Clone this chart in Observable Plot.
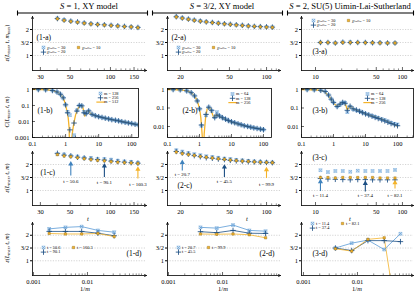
<!DOCTYPE html>
<html><head><meta charset="utf-8">
<script src="https://cdn.jsdelivr.net/npm/d3@7"></script>
<script src="https://cdn.jsdelivr.net/npm/@observablehq/plot@0.6"></script>
<style>
html,body{margin:0;padding:0;background:#fff}
#c{position:relative;width:415px;height:294px;overflow:hidden;background:#fff}
#c svg{position:absolute;overflow:visible;max-width:none}
</style></head><body><div id="c"></div>
<script>
// ================= DATA =================
const colTitles = [" = 1, XY model", " = 3/2, XY model", " = 2, SU(5) Uimin-Lai-Sutherland"];
const panelLabels = [["(1-a)","(1-b)","(1-c)","(1-d)"],["(2-a)","(2-b)","(2-c)","(2-d)"],["(3-a)","(3-b)","(3-c)","(3-d)"]];
const chiLabels = ["χₜᵣₒₜₜₑᵣ = 30", "χₜᵣₒₜₜₑᵣ = 10", "χₜᵣₒₜₜₑᵣ = 20"];
const mLabels1 = ["m = 128", "m = 256", "m = 512"];
const mLabels23 = ["m = 64", "m = 128", "m = 256"];

// x values (rows a, c)
const tS1 = [40.2, 45.1, 50.6, 56.8, 63.7, 71.5, 80.2, 90.1, 101.1, 113.4, 127.2, 142.7, 160.3];
const tS32 = [18.5, 20.7, 23.2, 25.9, 29.0, 32.4, 36.3, 40.6, 45.5, 50.8, 56.8, 63.6, 71.1, 79.6, 89.0, 99.9, 111.5];
const tS2 = [11.4, 13.9, 16.9, 20.6, 25.1, 30.6, 37.4, 45.3, 55.2, 67.3, 82.1];

// row a : eps(Lmax, t, m_max) for chi_trotter = 30, 20, 10
const a1_chi30 = [2.43, 2.37, 2.32, 2.28, 2.25, 2.22, 2.20, 2.18, 2.16, 2.14, 2.12, 2.10, 2.08];
const a1_chi20 = [2.42, 2.36, 2.32, 2.29, 2.25, 2.22, 2.19, 2.18, 2.16, 2.14, 2.12, 2.10, 2.08];
const a1_chi10 = [2.41, 2.35, 2.31, 2.28, 2.24, 2.21, 2.19, 2.17, 2.15, 2.13, 2.11, 2.10, 2.07];
const a2_chi30 = [2.50, 2.45, 2.40, 2.36, 2.33, 2.30, 2.27, 2.25, 2.22, 2.20, 2.18, 2.16, 2.14, 2.12, 2.11, 2.10, 2.09];
const a2_chi20 = [2.49, 2.44, 2.40, 2.36, 2.32, 2.29, 2.27, 2.24, 2.22, 2.20, 2.18, 2.16, 2.14, 2.12, 2.11, 2.10, 2.09];
const a2_chi10 = [2.48, 2.43, 2.39, 2.35, 2.32, 2.29, 2.26, 2.24, 2.21, 2.19, 2.17, 2.15, 2.13, 2.12, 2.10, 2.09, 2.08];
const a3_chi30 = [1.50, 1.50, 1.48, 1.51, 1.51, 1.50, 1.50, 1.49, 1.49, 1.48, 1.48];
const a3_chi20 = [1.50, 1.50, 1.48, 1.51, 1.50, 1.50, 1.50, 1.49, 1.49, 1.48, 1.48];
const a3_chi10 = [1.50, 1.50, 1.48, 1.50, 1.50, 1.50, 1.49, 1.49, 1.48, 1.48, 1.48];

// row b : correlation C(Lmax, t, m)
const b1_r = [0.1, 0.15, 0.2, 0.3, 0.4, 0.5, 0.6, 0.7, 0.8, 0.9, 1.0, 1.1, 1.2, 1.28, 1.36, 1.5, 1.65, 1.8, 2.0, 2.25, 2.6, 2.9, 3.2, 3.5, 3.8, 4.1, 4.5, 5.0, 5.6, 7.0, 10, 15, 25, 40, 60, 100, 160];
const b1_m512 = [1.0, 0.99, 0.97, 0.93, 0.86, 0.76, 0.63, 0.5, 0.36, 0.22, 0.11, 0.045, 0.017, 0.004, 0.00001, 0.0006, 0.003, 0.009, 0.025, 0.05, 0.095, 0.1, 0.095, 0.05, 0.022, 0.03, 0.045, 0.047, 0.032, 0.025, 0.02, 0.017, 0.013, 0.011, 0.0093, 0.0075, 0.0062];
const b1_rm = [0.15, 0.25, 0.4, 0.55, 0.7, 0.85, 1.0, 1.15, 1.35, 1.8, 2.2, 2.6, 3.1, 3.6, 4.2, 5.0, 6.3, 7.9, 10, 12.6, 15.8, 20, 25, 32, 40, 50, 63, 79, 100, 126, 158];
const b1_m128 = [0.99, 0.96, 0.86, 0.7, 0.5, 0.3, 0.11, 0.04, 0.025, 0.0014, 0.05, 0.1, 0.095, 0.04, 0.032, 0.045, 0.028, 0.023, 0.02, 0.018, 0.016, 0.0145, 0.013, 0.012, 0.011, 0.0098, 0.009, 0.0082, 0.0075, 0.0068, 0.0062];
const b1_m256 = [0.99, 0.96, 0.86, 0.7, 0.5, 0.3, 0.11, 0.035, 0.003, 0.008, 0.045, 0.1, 0.095, 0.035, 0.031, 0.046, 0.028, 0.023, 0.02, 0.018, 0.016, 0.0145, 0.013, 0.012, 0.011, 0.0097, 0.0089, 0.0081, 0.0074, 0.0067, 0.0061];

const b2_r = [0.1, 0.15, 0.2, 0.3, 0.4, 0.5, 0.6, 0.7, 0.8, 0.9, 1.0, 1.05, 1.1, 1.15, 1.22, 1.3, 1.4, 1.55, 1.75, 1.95, 2.2, 2.5, 2.8, 3.0, 3.3, 3.7, 4.2, 5.0, 6.5, 10, 15, 25, 40, 60, 100];
const b2_m256 = [1.0, 0.99, 0.97, 0.92, 0.84, 0.74, 0.6, 0.45, 0.3, 0.18, 0.09, 0.055, 0.03, 0.012, 0.003, 0.00001, 0.004, 0.03, 0.095, 0.11, 0.09, 0.05, 0.03, 0.032, 0.042, 0.04, 0.035, 0.03, 0.024, 0.017, 0.014, 0.011, 0.0093, 0.0082, 0.0068];
const b2_rm = [0.15, 0.25, 0.4, 0.55, 0.7, 0.85, 1.0, 1.15, 1.6, 1.95, 2.4, 3.0, 3.5, 4.2, 5.2, 6.5, 8, 10, 12.6, 16, 20, 25, 32, 40, 50, 63, 80, 100];
const b2_m64 = [0.99, 0.96, 0.84, 0.67, 0.45, 0.24, 0.09, 0.011, 0.04, 0.11, 0.07, 0.032, 0.06, 0.038, 0.03, 0.025, 0.021, 0.018, 0.016, 0.014, 0.0125, 0.011, 0.0102, 0.0093, 0.0085, 0.0079, 0.0073, 0.0068];
const b2_m128 = [0.99, 0.96, 0.84, 0.67, 0.45, 0.24, 0.09, 0.012, 0.045, 0.11, 0.075, 0.03, 0.042, 0.037, 0.03, 0.025, 0.021, 0.018, 0.016, 0.014, 0.0125, 0.011, 0.0101, 0.0092, 0.0084, 0.0078, 0.0072, 0.0067];

const b3_r = [0.1, 0.15, 0.2, 0.3, 0.4, 0.5, 0.6, 0.75, 0.95, 1.13, 1.33, 1.6, 1.94, 2.3, 2.7, 3.3, 4.1, 5.2, 7, 10.6, 20, 35, 60, 100];
const b3_m256 = [1.0, 0.99, 0.97, 0.94, 0.88, 0.8, 0.62, 0.4, 0.22, 0.15, 0.12, 0.17, 0.2, 0.18, 0.08, 0.13, 0.09, 0.08, 0.064, 0.047, 0.033, 0.024, 0.016, 0.0105];
const b3_rm = [0.15, 0.25, 0.4, 0.55, 0.7, 0.85, 1.0, 1.3, 1.6, 1.94, 2.3, 2.7, 3.3, 4.1, 5.2, 6.5, 8, 10, 12.6, 16, 20, 25, 32, 40, 50, 63, 80, 100];
const b3_m64 = [0.99, 0.97, 0.9, 0.78, 0.5, 0.3, 0.2, 0.12, 0.15, 0.2, 0.19, 0.06, 0.12, 0.085, 0.075, 0.068, 0.058, 0.05, 0.044, 0.038, 0.033, 0.029, 0.025, 0.022, 0.019, 0.016, 0.014, 0.013];
const b3_m128 = [0.99, 0.97, 0.9, 0.78, 0.5, 0.3, 0.2, 0.12, 0.16, 0.2, 0.18, 0.075, 0.125, 0.09, 0.078, 0.066, 0.056, 0.048, 0.042, 0.036, 0.031, 0.027, 0.023, 0.02, 0.017, 0.0145, 0.0125, 0.011];

// row c : eps(Lmax, t, m)
const c1_m128 = [2.40, 2.39, 2.34, 2.31, 2.26, 2.25, 2.21, 2.21, 2.19, 2.15, 2.12, 2.10, 2.07];
const c1_m256 = [2.43, 2.36, 2.33, 2.28, 2.25, 2.21, 2.19, 2.17, 2.13, 2.11, 2.09, 2.07, 2.05];
const c1_m512 = [2.38, 2.33, 2.30, 2.26, 2.22, 2.19, 2.16, 2.14, 2.11, 2.09, 2.07, 2.06, 2.04];
const c2_m64 = [2.55, 2.50, 2.44, 2.40, 2.36, 2.32, 2.29, 2.26, 2.23, 2.21, 2.18, 2.16, 2.14, 2.12, 2.11, 2.09, 2.08];
const c2_m128 = [2.50, 2.44, 2.40, 2.34, 2.30, 2.26, 2.24, 2.21, 2.19, 2.16, 2.14, 2.13, 2.11, 2.10, 2.09, 2.08, 2.07];
const c2_m256 = [2.48, 2.42, 2.38, 2.35, 2.31, 2.28, 2.25, 2.22, 2.20, 2.17, 2.15, 2.13, 2.12, 2.10, 2.09, 2.08, 2.07];
const c3_m64 = [1.78, 1.71, 1.75, 1.75, 1.72, 1.76, 1.75, 1.75, 1.75, 1.75, 1.79];
const c3_m128 = [1.46, 1.44, 1.43, 1.42, 1.41, 1.42, 1.42, 1.41, 1.41, 1.41, 1.41];
const c3_m256 = [1.50, 1.50, 1.48, 1.50, 1.50, 1.50, 1.50, 1.50, 1.48, 1.48, 1.48];
const tMarked1 = [50.6, 90.1, 160.3];
const tMarked2 = [20.7, 45.5, 99.9];
const tMarked3 = [11.4, 37.4, 82.1];

// row d : eps vs 1/m at selected t
const invM1 = [0.001953, 0.003906, 0.007813, 0.015625, 0.03125];
const invM23 = [0.003906, 0.007813, 0.015625, 0.03125, 0.0625];
const d1_t506 = [2.25, 2.31, 2.34, 2.19, 2.12];
const d1_t901 = [2.15, 2.15, 2.15, 2.08, 1.98];
const d1_t1603 = [2.07, 2.05, 2.05, 2.07, 1.95];
const d2_t207 = [2.31, 2.28, 2.40, 2.19, 2.16];
const d2_t455 = [2.14, 2.10, 2.19, 2.08, 2.07];
const d2_t999 = [2.05, 2.04, 2.05, 2.02, 1.90];
const d3_t114 = [1.50, 1.69, 1.81, 1.44, 2.06];
const d3_t374 = [1.50, 1.40, 1.79, 1.79, 1.75];
const d3_t821 = [1.47, 1.38, 1.84, 1.90, -2.2];

// ================= DRAWING =================
const root = document.getElementById("c");
const FONT = "'Liberation Serif','DejaVu Serif',serif";
const LB = "#5b9bd5", DB = "#1d4f84", OR = "#f4b32a", ORS = "#8b6512", ARB = "#3f82bd";
const COLS = [{x0:32, x1:146, bx1:138}, {x0:167, x1:280, bx1:271}, {x0:301, x1:413, bx1:413}];
const ROWS = {a:[16,70], b:[88,137], c:[151,205], d:[222,275]};
const EPS_DOM = [0.423, 2.5];
const ML = 34, MR = 16, MT = 8, MB = 20;

const pts = (xs, ys) => xs.map((x, i) => ({x, y: ys[i]}));

function addPanel(x0, x1, y0, y1, xs, ys, marksFn) {
  const w = x1 - x0, h = y1 - y0;
  const svg = Plot.plot({
    width: w + ML + MR, height: h + MT + MB,
    marginLeft: ML, marginRight: MR, marginTop: MT, marginBottom: MB,
    x: xs, y: ys,
    style: {background: "transparent", overflow: "visible", fontFamily: FONT, fontSize: "6.5px", color: "black"},
    marks: marksFn(w, h)
  });
  svg.style.left = (x0 - ML) + "px";
  svg.style.top = (y0 - MT) + "px";
  root.appendChild(svg);
}

const sLB = (d, o) => [
  Plot.dot(d, {...o, symbol: "square", r: 1.55, fill: "none", stroke: LB, strokeWidth: 0.5}),
  Plot.dot(d, {...o, symbol: "times", r: 1.6, stroke: LB, strokeWidth: 0.55})];
const sDB = (d, o) => [Plot.dot(d, {...o, symbol: "plus", r: 1.9, stroke: DB, strokeWidth: 0.85})];
const sOR = (d, o) => [Plot.dot(d, {...o, symbol: "square", r: 1.35, fill: OR, stroke: ORS, strokeWidth: 0.4})];
const lineSym = {draw(ctx, size) { const l = Math.sqrt(size) * 0.9; ctx.moveTo(-l, 0); ctx.lineTo(l, 0); }};
const sLine = (d, o) => [Plot.dot(d, {...o, symbol: lineSym, r: 2.6, fill: "none", stroke: OR, strokeWidth: 1.2})];
const XY = {x: "x", y: "y"};

function legend(items, x, y, colW, rowH) {
  const out = [];
  for (const it of items) {
    const dx = x + it.col * colW, dy = y + it.row * rowH;
    out.push(...it.sym([0], {frameAnchor: "top-left", dx, dy}));
    out.push(Plot.text([it.label], {frameAnchor: "top-left", dx: dx + 3.6, dy, text: d => d,
      textAnchor: "start", lineAnchor: "middle", fontSize: 4.3, fill: "black"}));
  }
  return out;
}
function plabel(text, anchor, dx, dy) {
  return Plot.text([text], {frameAnchor: anchor, dx, dy, text: d => d,
    textAnchor: anchor.endsWith("right") ? "end" : "start", lineAnchor: "middle", fontSize: 7.5, fill: "black"});
}

function epsAxes(xd, w, h, majors, minors) {
  return [
    Plot.ruleY([1, 1.5, 2], {stroke: "#a8a8a8", strokeWidth: 0.5, strokeDasharray: "1.2,1.4"}),
    Plot.tickX(minors, {x: d => d, insetTop: h - 1.6, strokeWidth: 0.45}),
    Plot.tickX(majors, {x: d => d, insetTop: h - 3, strokeWidth: 0.6}),
    Plot.axisX({ticks: majors, tickFormat: d => String(d), tickSize: 0, tickPadding: 3.5, fontSize: 6.5, label: null}),
    Plot.axisY({ticks: [1, 1.5, 2], tickFormat: d => d === 1.5 ? "3/2" : String(d), tickSize: 2, tickPadding: 1.5, fontSize: 6.5, label: null}),
    Plot.arrow([0], {x1: xd[0], x2: xd[1], y1: EPS_DOM[0], y2: EPS_DOM[0], strokeWidth: 0.8, headLength: 4, headAngle: 50}),
    Plot.arrow([0], {x1: xd[0], x2: xd[0], y1: EPS_DOM[0], y2: EPS_DOM[1], strokeWidth: 0.8, headLength: 4, headAngle: 50})
  ];
}

// per-column settings
const tX = [tS1, tS32, tS2];
const xdA = [[26.2, 185.8], [15.7, 129.8], [6.9, 134]];
const majA = [[30, 50, 100, 150], [20, 50, 100], [10, 50, 100]];
const minA = [[40, 60, 70, 80, 90, 110, 120, 130, 140, 160, 170, 180],
              [30, 40, 60, 70, 80, 90, 110, 120],
              [20, 30, 40, 60, 70, 80, 90]];
const A = [[a1_chi30, a1_chi20, a1_chi10], [a2_chi30, a2_chi20, a2_chi10], [a3_chi30, a3_chi20, a3_chi10]];
const chiLeg = [[11, 31], [11, 31], [12, 4]];
const aLab = [["top-left", 4, 21], ["top-left", 4, 21], ["top-left", 11, 35]];

for (let i = 0; i < 3; i++) {
  const C = COLS[i];
  addPanel(C.x0, C.x1, ROWS.a[0], ROWS.a[1], {type: "log", domain: xdA[i]}, {type: "linear", domain: EPS_DOM}, (w, h) => [
    ...epsAxes(xdA[i], w, h, majA[i], minA[i]),
    ...sLB(pts(tX[i], A[i][0]), XY),
    ...sDB(pts(tX[i], A[i][1]), XY),
    ...sOR(pts(tX[i], A[i][2]), XY),
    plabel(panelLabels[i][0], aLab[i][0], aLab[i][1], aLab[i][2]),
    ...legend([
      {sym: sLB, label: chiLabels[0], col: 0, row: 0},
      {sym: sOR, label: chiLabels[1], col: 1, row: 0},
      {sym: sDB, label: chiLabels[2], col: 0, row: 1}], chiLeg[i][0], chiLeg[i][1], 35, 4.6)
  ]);
}

// row b
const xdB = [[0.1, 160], [0.1, 178], [0.1, 316]];
const ydB = [[0.001, 1.15], [0.00255, 1.13], [0.00255, 1.13]];
const decB = [[1, 0.1, 0.01, 0.001], [1, 0.1, 0.01], [1, 0.1, 0.01]];
const minB = [0.2,0.3,0.4,0.5,0.6,0.7,0.8,0.9,2,3,4,5,6,7,8,9,20,30,40,50,60,70,80,90,200,300];
const B = [
  {r: b1_r, line: b1_m512, rm: b1_rm, lb: b1_m128, db: b1_m256, labs: mLabels1},
  {r: b2_r, line: b2_m256, rm: b2_rm, lb: b2_m64, db: b2_m128, labs: mLabels23},
  {r: b3_r, line: b3_m256, rm: b3_rm, lb: b3_m64, db: b3_m128, labs: mLabels23}];
const bLeg = [[68, 5], [65, 5.5], [66, 5.5]];
const bLab = [[5, 22], [15, 22], [11, 22]];
for (let i = 0; i < 3; i++) {
  const C = COLS[i], D = B[i];
  addPanel(C.x0, C.bx1, ROWS.b[0], ROWS.b[1], {type: "log", domain: xdB[i]}, {type: "log", domain: ydB[i]}, (w, h) => [
    Plot.line(pts(D.r, D.line), {...XY, stroke: OR, strokeWidth: 1.3, clip: true}),
    ...sLB(pts(D.rm, D.lb), {...XY, clip: true}),
    ...sDB(pts(D.rm, D.db), {...XY, clip: true}),
    Plot.frame({stroke: "black", strokeWidth: 0.8}),
    Plot.tickX(minB.filter(v => v < xdB[i][1]), {x: d => d, insetTop: h - 1.5, strokeWidth: 0.45}),
    Plot.tickX([0.1, 1, 10, 100], {x: d => d, insetTop: h - 3, strokeWidth: 0.6}),
    Plot.tickY(decB[i], {y: d => d, insetRight: w - 3, strokeWidth: 0.6}),
    Plot.axisX({ticks: [0.1, 1, 10, 100], tickFormat: d => String(d), tickSize: 0, tickPadding: 3.5, fontSize: 6.5, label: null}),
    Plot.axisY({ticks: decB[i], tickFormat: d => String(d), tickSize: 0, tickPadding: 3, fontSize: 6.5, label: null}),
    plabel(panelLabels[i][1], "top-left", bLab[i][0], bLab[i][1]),
    ...legend([
      {sym: sLB, label: D.labs[0], col: 0, row: 0},
      {sym: sDB, label: D.labs[1], col: 0, row: 1},
      {sym: sLine, label: D.labs[2], col: 0, row: 2}], bLeg[i][0], bLeg[i][1], 0, 4.3)
  ]);
}

// row c
const Cs = [[c1_m128, c1_m256, c1_m512], [c2_m64, c2_m128, c2_m256], [c3_m64, c3_m128, c3_m256]];
const tMarked = [tMarked1, tMarked2, tMarked3];
const arrowCols = [ARB, DB, OR];
// arrow layout in y units: [tail, head, label]
const arrowLay = [
  [[1.56, 2.08, 1.36], [1.50, 2.0, 1.31], [1.44, 1.88, 1.25]],
  [[1.75, 2.14, 1.62], [1.50, 1.96, 1.34], [1.46, 1.86, 1.25]],
  [[0.96, 1.40, 0.81], [0.94, 1.33, 0.81], [1.06, 1.36, 0.81]]];
const cLab = [["top-left", 8, 21], ["top-left", 10, 34], ["top-left", 11, 6]];
for (let i = 0; i < 3; i++) {
  const C = COLS[i];
  addPanel(C.x0, C.x1, ROWS.c[0], ROWS.c[1], {type: "log", domain: xdA[i]}, {type: "linear", domain: EPS_DOM}, (w, h) => [
    ...epsAxes(xdA[i], w, h, majA[i], minA[i]),
    ...sLB(pts(tX[i], Cs[i][0]), XY),
    ...sDB(pts(tX[i], Cs[i][1]), XY),
    ...sOR(pts(tX[i], Cs[i][2]), XY),
    ...tMarked[i].map((t, k) => Plot.ruleX([t], {x: d => d, y1: arrowLay[i][k][0], y2: arrowLay[i][k][1] - 0.06,
      stroke: arrowCols[k], strokeWidth: 1.1})),
    ...tMarked[i].map((t, k) => Plot.dot([t], {x: d => d, y: arrowLay[i][k][1] - 0.06, symbol: "triangle", r: 1.9,
      fill: arrowCols[k], stroke: "none"})),
    ...tMarked[i].map((t, k) => Plot.text([t], {x: d => d, y: arrowLay[i][k][2], text: d => "t = " + d,
      fontSize: 4.9, textAnchor: "middle", fill: "black"})),
    plabel(panelLabels[i][2], cLab[i][0], cLab[i][1], cLab[i][2])
  ]);
}

// row d
const xdD = [[0.00096, 0.124], [0.00096, 0.118], [0.00092, 0.109]];
const invM = [invM1, invM23, invM23];
const Ds = [[d1_t506, d1_t901, d1_t1603], [d2_t207, d2_t455, d2_t999], [d3_t114, d3_t374, d3_t821]];
const minD = [0.002,0.003,0.004,0.005,0.006,0.007,0.008,0.009,0.02,0.03,0.04,0.05,0.06,0.07,0.08,0.09,0.1];
const dLeg = [[11, 25], [11, 25], [11, 1]];
const dLab = [["top-right", -5, 31], ["top-right", -6, 31], ["top-left", 11, 31]];
for (let i = 0; i < 3; i++) {
  const C = COLS[i];
  const labs = tMarked[i].map(t => "t = " + t);
  addPanel(C.x0, C.x1, ROWS.d[0], ROWS.d[1], {type: "log", domain: xdD[i]}, {type: "linear", domain: EPS_DOM}, (w, h) => [
    ...epsAxes(xdD[i], w, h, [0.001, 0.01], minD),
    Plot.line(pts(invM[i], Ds[i][0]), {...XY, stroke: LB, strokeWidth: 0.8, clip: true}),
    Plot.line(pts(invM[i], Ds[i][1]), {...XY, stroke: DB, strokeWidth: 0.8, clip: true}),
    Plot.line(pts(invM[i], Ds[i][2]), {...XY, stroke: OR, strokeWidth: 0.8, clip: true}),
    ...sLB(pts(invM[i], Ds[i][0]), {...XY, clip: true}),
    ...sDB(pts(invM[i], Ds[i][1]), {...XY, clip: true}),
    ...sOR(pts(invM[i], Ds[i][2]), {...XY, clip: true}),
    plabel(panelLabels[i][3], dLab[i][0], dLab[i][1], dLab[i][2]),
    ...legend([
      {sym: sLB, label: labs[0], col: 0, row: 0},
      {sym: sOR, label: labs[2], col: 1, row: 0},
      {sym: sDB, label: labs[1], col: 0, row: 1}], dLeg[i][0], dLeg[i][1], 30, 4.6)
  ]);
}

// ---------- header, brackets and axis titles (overlay) ----------
const sub = s => `<tspan font-size="4.3" dy="1.3">${s}</tspan>`;
const back = s => `<tspan dy="-1.3">${s}</tspan>`;
const it = s => `<tspan font-style="italic">${s}</tspan>`;
const epsMax = `${it("ε")}(${it("L")}${sub("max")}${back(", ")}${it("t")}, ${it("m")}${sub("max")}${back(")")}`;
const cLabel = `${it("C")}(${it("L")}${sub("max")}${back(", ")}${it("t")}, ${it("m")})`;
const epsM = `${it("ε")}(${it("L")}${sub("max")}${back(", ")}${it("t")}, ${it("m")})`;
const titleX = [89, 222, 350];
const brackets = [[17, 148], [152, 283], [287, 414]];
let o = `<svg width="415" height="294" style="left:0;top:0" font-family="${FONT}" xmlns="http://www.w3.org/2000/svg">`;
colTitles.forEach((t, i) => {
  o += `<text x="${titleX[i]}" y="8.5" text-anchor="middle" font-size="8.6">${it("S")}${t}</text>`;
  const [a, b] = brackets[i];
  o += `<path d="M${a},13H${b}M${a + 0.5},10.5V15.5M${b - 0.5},10.5V15.5" stroke="black" stroke-width="1.1" fill="none"/>`;
});
[[43, epsMax], [112, cLabel], [178, epsM], [248, epsM]].forEach(([y, s]) => {
  o += `<text transform="translate(9,${y}) rotate(-90)" text-anchor="middle" font-size="6">${s}</text>`;
});
[88, 247, 350].forEach(x => { o += `<text x="${x}" y="221" text-anchor="middle" font-size="6.5" font-style="italic">t</text>`; });
[85, 223, 357].forEach(x => { o += `<text x="${x}" y="291" text-anchor="middle" font-size="6.5">1/${it("m")}</text>`; });
o += `</svg>`;
root.insertAdjacentHTML("afterbegin", o);
</script></body></html>
